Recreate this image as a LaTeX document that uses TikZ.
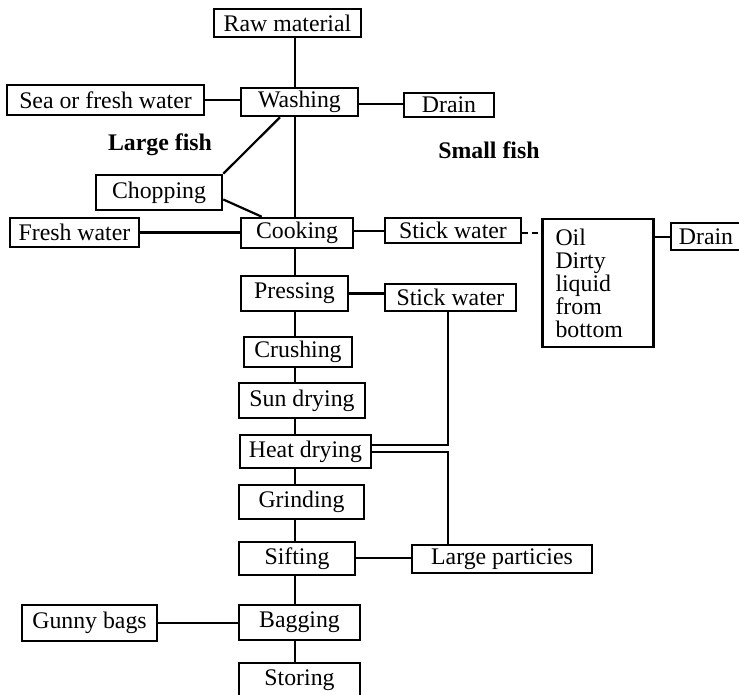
\documentclass[tikz,border=0pt]{standalone}
\usepackage{fontspec}
\setmainfont{Liberation Serif}
\usetikzlibrary{calc}
\begin{document}
\begin{tikzpicture}[x=0.5pt,y=-0.5pt,
  box/.style={draw, line width=1.3pt, inner sep=0pt, font=\fontsize{11.9}{13}\selectfont},
  bsz/.style 2 args={minimum width=#1*0.5pt, minimum height=#2*0.5pt},
  conn/.style={line width=1.1pt},
  thinconn/.style={line width=0.9pt},
  lbl/.style={font=\fontsize{11.9}{13}\selectfont\bfseries, inner sep=0pt}]
\useasboundingbox (0,0) rectangle (739,695);
% main chain
\node[box,bsz={147}{28}] (raw) at (287.5,23) {Raw material};
\node[box,bsz={117}{28}] (wash) at (299.5,102) {Washing};
\node[box,bsz={112}{30}] (cook) at (297,233) {Cooking};
\node[box,bsz={107}{35}] (press) at (294.5,293.5) {Pressing};
\node[box,bsz={108}{30}] (crush) at (298,352) {Crushing};
\node[box,bsz={126}{35}] (sun) at (302,400.5) {Sun drying};
\node[box,bsz={131}{33}] (heat) at (305.5,451.5) {Heat drying};
\node[box,bsz={125}{34}] (grind) at (301.5,502) {Grinding};
\node[box,bsz={116}{33}] (sift) at (297,558.5) {Sifting};
\node[box,bsz={121}{35}] (bag) at (299.5,622.5) {Bagging};
\node[box,bsz={121}{35}] (store) at (299.5,680.5) {Storing};
% side boxes
\node[box,bsz={197}{30}] (sea) at (105.5,100) {Sea or fresh water};
\node[box,bsz={90}{24}] (drainA) at (449,105) {Drain};
\node[box,bsz={126}{35}] (chop) at (159,192.5) {Chopping};
\node[box,bsz={129}{29}] (fresh) at (74.5,232.5) {Fresh water};
\node[box,bsz={136}{25}] (stickA) at (453,230.5) {Stick water};
\node[box,bsz={98}{128}, align=left, inner xsep=6.5pt, text width=42.5pt,
      font=\fontsize{11.9}{11.5}\selectfont] (oil) at (598,283) {Oil\\Dirty\\liquid\\from\\bottom};
\node[box,bsz={70}{27}] (drainB) at (706,236.5) {Drain};
\node[box,bsz={131}{27}] (stickB) at (450.5,297.5) {Stick water};
\node[box,bsz={180}{28}] (large) at (502,559) {Large particies};
\node[box,bsz={135}{36}] (gunny) at (89.5,623) {Gunny bags};
% labels
\node[lbl] (lf) at (160,145) {Large fish};
\node[lbl] (sf) at (489,150) {Small fish};
% spine
\coordinate (sp) at (295,0);
\draw[conn] (raw.south -| sp) -- (wash.north -| sp);
\draw[conn] (wash.south -| sp) -- (cook.north -| sp);
\draw[conn] (cook.south -| sp) -- (press.north -| sp);
\draw[conn] (press.south -| sp) -- (crush.north -| sp);
\draw[conn] (crush.south -| sp) -- (sun.north -| sp);
\draw[conn] (sun.south -| sp) -- (heat.north -| sp);
\draw[conn] (heat.south -| sp) -- (grind.north -| sp);
\draw[conn] (grind.south -| sp) -- (sift.north -| sp);
\draw[conn] (sift.south -| sp) -- (bag.north -| sp);
\draw[conn] (bag.south -| sp) -- (store.north -| sp);
% helper coordinates
\coordinate (w1) at ($(wash.east)+(0,2)$);
\coordinate (wb) at ($(wash.south)+(-19.5,0)$);
\coordinate (ce) at ($(chop.east)+(0,7)$);
\coordinate (cn) at ($(cook.north west)+(22,0)$);
\coordinate (c1) at ($(cook.east)+(0,-2)$);
\coordinate (s1) at ($(stickA.east)+(0,2.5)$);
\coordinate (o1) at (647,237);
\coordinate (vx) at (448,0);
\coordinate (hy1) at (0,445);
\coordinate (hy2) at (0,452);
\coordinate (sy) at (0,558);
% side connections
\draw[conn] (sea.east) -- (sea.east -| wash.west);
\draw[conn] (w1) -- (w1 -| drainA.west);
\draw[conn] (wb) -- (chop.north east);
\draw[conn] (ce) -- (cn);
\draw[conn] (fresh.east) -- (fresh.east -| cook.west);
\draw[conn] (c1) -- (c1 -| stickA.west);
\draw[thinconn, densely dashed] (s1) -- (s1 -| oil.west);
\draw[conn] (oil.east |- o1) -- (drainB.west |- o1);
\draw[conn] (press.east) -- (press.east -| stickB.west);
\draw[thinconn] (stickB.south -| vx) -- (vx |- hy1) -- (heat.east |- hy1);
\draw[thinconn] (heat.east |- hy2) -- (vx |- hy2) -- (large.north -| vx);
\draw[conn] (sift.east |- sy) -- (large.west |- sy);
\draw[conn] (gunny.east) -- (gunny.east -| bag.west);
\end{tikzpicture}
\end{document}
